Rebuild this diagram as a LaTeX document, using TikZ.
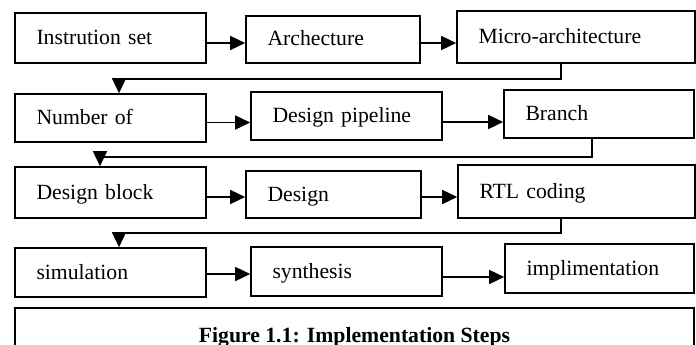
\documentclass[tikz,border=0pt]{standalone}
\usepackage{fontspec}
\setmainfont{Liberation Serif}
\usetikzlibrary{arrows.meta}
\begin{document}
\begin{tikzpicture}[x=1pt,y=-1pt,
    every node/.style={font=\fontsize{21.7pt}{26pt}\selectfont},
    stepbox/.style={draw,line width=1.6pt,inner xsep=21.5pt,inner ysep=0pt,
      align=left,text height=17pt,text depth=4pt},
    flow/.style={line width=1.5pt,-{Triangle[length=15pt,width=14pt]}}]
      \useasboundingbox (0,0) rectangle (696,345);
      \node[stepbox,text width=148pt,minimum height=50pt] (instr) at (110.5,38) {Instrution set};
      \node[stepbox,text width=131pt,minimum height=47pt] (arch) at (333,39.5) {Archecture};
      \node[stepbox,text width=195pt,minimum height=52pt] (micro) at (576,37) {Micro-architecture};
      \node[stepbox,text width=148pt,minimum height=48pt] (numof) at (110.5,118) {Number of};
      \node[stepbox,text width=148pt,minimum height=48pt] (pipe) at (346.5,116) {Design pipeline};
      \node[stepbox,text width=147pt,minimum height=48pt] (branch) at (599,114) {Branch};
      \node[stepbox,text width=148pt,minimum height=51pt] (block) at (110.5,192.5) {Design block};
      \node[stepbox,text width=132pt,minimum height=47pt] (design) at (333.5,194.5) {Design};
      \node[stepbox,text width=194pt,minimum height=53pt] (rtl) at (576.5,191.5) {RTL coding};
      \node[stepbox,text width=148pt,minimum height=49pt] (sim) at (110.5,272.5) {simulation};
      \node[stepbox,text width=148pt,minimum height=49pt] (synth) at (346.5,271.5) {synthesis};
      \node[stepbox,text width=146pt,minimum height=49pt] (impl) at (599.5,268.5) {implimentation};
      \node[draw,line width=1.6pt,inner sep=0pt,minimum width=679pt,minimum height=56pt,
        text height=17pt,text depth=4pt,font=\fontsize{21.7pt}{26pt}\selectfont\bfseries]
        (caption) at (354.5,336) {Figure 1.1: Implementation Steps};
      \begin{scope}[flow]
        \draw ([yshift=-5pt]instr.east) -- ([yshift=-5pt]instr.east -| arch.west);
        \draw ([yshift=-3.5pt]arch.east) -- ([yshift=-3.5pt]arch.east -| micro.west);
        \draw ([yshift=-4.5pt]numof.east) -- ([yshift=-4.5pt]numof.east -| pipe.west);
        \draw ([yshift=-6pt]pipe.east) -- ([yshift=-6pt]pipe.east -| branch.west);
        \draw ([yshift=-4.5pt]block.east) -- ([yshift=-4.5pt]block.east -| design.west);
        \draw ([yshift=-2.5pt]design.east) -- ([yshift=-2.5pt]design.east -| rtl.west);
        \draw ([yshift=-1.5pt]sim.east) -- ([yshift=-1.5pt]sim.east -| synth.west);
        \draw ([yshift=-5.5pt]synth.east) -- ([yshift=-5.5pt]synth.east -| impl.west);
        \draw ([xshift=-15pt]micro.south) -- ++(0,15) -| ([xshift=8.5pt]numof.north);
        \draw ([xshift=-7pt]branch.south) -- ++(0,18) -| ([xshift=-10.5pt]block.north);
        \draw ([xshift=-15.5pt]rtl.south) -- ++(0,14) -| ([xshift=8.5pt]sim.north);
      \end{scope}
    \end{tikzpicture}
\end{document}
